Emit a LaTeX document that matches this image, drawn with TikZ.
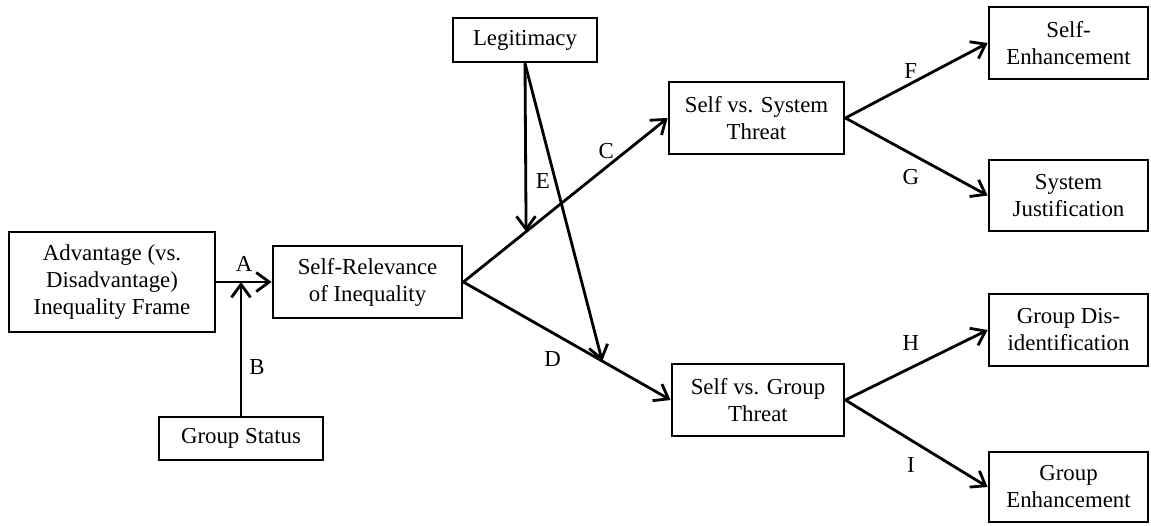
\documentclass[tikz,border=0pt]{standalone}
\usepackage{fontspec}
\setmainfont{Liberation Serif}
\usetikzlibrary{arrows.meta}
\tikzset{box/.style={draw, line width=1.6pt, align=center, inner sep=0pt, font=\fontsize{13}{15.4}\selectfont},
  link/.style={line width=1.6pt, -{Straight Barb[length=2.6mm,width=3.8mm,line width=1.6pt]}},
  lbl/.style={font=\fontsize{13}{15.4}\selectfont, inner sep=2pt}}
\newcommand{\modelbox}[4] {\node at (#1) (#2) [box, #3] {#4};}
\newcommand{\modelpath}[4] {\draw [link] (#1) -- (#2) node [lbl, #4] {#3};}

\begin{document}
\begin{tikzpicture}[x=0.02cm, y=-0.02cm]
\useasboundingbox (0,0) rectangle (1151,525);
\modelbox {112,282} {frame} {minimum width=4.12cm, minimum height=2cm} {Advantage (vs.\\Disadvantage)\\Inequality Frame};
\modelbox {367.5,282} {rel} {minimum width=3.78cm, minimum height=1.44cm} {Self-Relevance\\of Inequality};
\modelbox {241,438.5} {status} {minimum width=3.28cm, minimum height=0.86cm} {Group Status};
\modelbox {525,40} {legit} {minimum width=2.88cm, minimum height=0.88cm} {Legitimacy};
\modelbox {756.5,118} {sys} {minimum width=3.5cm, minimum height=1.44cm} {Self vs. System\\Threat};
\modelbox {758,400} {grp} {minimum width=3.44cm, minimum height=1.44cm} {Self vs. Group\\Threat};
\modelbox {1068.5,43} {selfenh} {minimum width=3.18cm, minimum height=1.44cm} {Self-\\Enhancement};
\modelbox {1068.5,195.5} {sysjust} {minimum width=3.18cm, minimum height=1.42cm} {System\\Justification};
\modelbox {1068.5,330} {disid} {minimum width=3.18cm, minimum height=1.44cm} {Group Dis-\\identification};
\modelbox {1068.5,487} {grpenh} {minimum width=3.18cm, minimum height=1.4cm} {Group\\Enhancement};

\coordinate (amid) at (241,282);
\path (rel.east) -- (sys.west) coordinate [pos=0.307] (eend);
\path (rel.east) -- (grp.west) coordinate [pos=0.67] (lend);

\modelpath{frame.east}{rel.west}{A}{midway, above=3pt};
\modelpath{status.north}{amid}{B}{pos=0.36, right=2pt};
\modelpath{rel.east}{sys.west}{C}{pos=0.7, above=2pt};
\modelpath{rel.east}{grp.west}{D}{pos=0.43, below=8pt};
\modelpath{legit.south}{eend}{E}{pos=0.7, right=3pt};
\draw [link] (legit.south) -- (lend);
\modelpath{sys.east}{selfenh.west}{F}{pos=0.46, above=0pt};
\modelpath{sys.east}{sysjust.west}{G}{pos=0.46, below=6pt};
\modelpath{grp.east}{disid.west}{H}{pos=0.46, above=7pt};
\modelpath{grp.east}{grpenh.west}{I}{pos=0.46, below=7pt};
\end{tikzpicture}
\end{document}
